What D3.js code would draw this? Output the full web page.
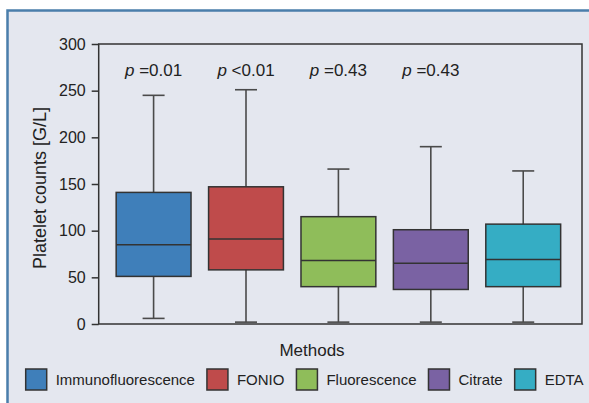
<!DOCTYPE html>
<html>
<head>
<meta charset="utf-8">
<script src="https://cdn.jsdelivr.net/npm/d3@7"></script>
<style>
	html, body { margin: 0; padding: 0; background: #fff; }
	svg { display: block; font-family: 'Liberation Sans', Arial, sans-serif; }
</style>
</head>
<body>
<svg id="chart" width="589" height="403"></svg>
<script>
const METHODS = ['Immunofluorescence', 'FONIO', 'Fluorescence', 'Citrate', 'EDTA'];
const COLORS = ['#3f7fba', '#bf4b4b', '#8fbd5a', '#7a62a3', '#35adc4'];
const WHISKER_LOW = [6, 2, 2, 2, 2];
const Q1 = [51, 58, 40, 37, 40];
const MEDIAN = [85, 91, 68, 65, 69];
const Q3 = [141, 147, 115, 101, 107];
const WHISKER_HIGH = [245, 251, 166, 190, 164];
const P_VALUES = ['=0.01', '<0.01', '=0.43', '=0.43'];
const Y_TICKS = [0, 50, 100, 150, 200, 250, 300];

const W = 589;
const H = 403;
const margin = { top: 44, right: 7, bottom: 79, left: 98.7 };
const INK = '#333';

const $svg = d3.select('#chart');

// panel background with blue frame on top/left
$svg.append('rect')
	.attr('x', 7).attr('y', 10)
	.attr('width', W).attr('height', H)
	.attr('fill', '#e4e7ef');
$svg.append('path')
	.attr('d', `M7.5,${H} V10.5 H${W}`)
	.attr('fill', 'none')
	.attr('stroke', '#4a7eab')
	.attr('stroke-width', 2.5);

const x = d3.scaleBand()
	.domain(METHODS)
	.range([margin.left, W - margin.right])
	.paddingInner(0.19)
	.paddingOuter(0.21)
	.align(0.45);

const y = d3.scaleLinear()
	.domain([0, 300])
	.range([H - margin.bottom, margin.top]);

const cap = 22;

const boxes = METHODS.map((m, i) => ({
	m,
	color: COLORS[i],
	lo: WHISKER_LOW[i],
	q1: Q1[i],
	med: MEDIAN[i],
	q3: Q3[i],
	hi: WHISKER_HIGH[i]
}));

const $g = $svg.selectAll('.box')
	.data(boxes)
	.enter()
	.append('g')
	.attr('class', 'box');

const cx = d => x(d.m) + x.bandwidth() / 2;

// whiskers
$g.append('line')
	.attr('x1', cx).attr('x2', cx)
	.attr('y1', d => y(d.hi)).attr('y2', d => y(d.lo))
	.attr('stroke', '#4a4a4a')
	.attr('stroke-width', 1.6);
$g.append('line')
	.attr('x1', d => cx(d) - cap / 2).attr('x2', d => cx(d) + cap / 2)
	.attr('y1', d => y(d.hi)).attr('y2', d => y(d.hi))
	.attr('stroke', '#4a4a4a')
	.attr('stroke-width', 1.6);
$g.append('line')
	.attr('x1', d => cx(d) - cap / 2).attr('x2', d => cx(d) + cap / 2)
	.attr('y1', d => y(d.lo)).attr('y2', d => y(d.lo))
	.attr('stroke', '#4a4a4a')
	.attr('stroke-width', 1.6);

// box + median
$g.append('rect')
	.attr('x', d => x(d.m))
	.attr('width', x.bandwidth())
	.attr('y', d => y(d.q3))
	.attr('height', d => y(d.q1) - y(d.q3))
	.attr('fill', d => d.color)
	.attr('stroke', INK)
	.attr('stroke-width', 1.5);
$g.append('line')
	.attr('x1', d => x(d.m)).attr('x2', d => x(d.m) + x.bandwidth())
	.attr('y1', d => y(d.med)).attr('y2', d => y(d.med))
	.attr('stroke', INK)
	.attr('stroke-width', 1.5);

// p-values
const $p = $svg.selectAll('.pval')
	.data(P_VALUES)
	.enter()
	.append('text')
	.attr('class', 'pval')
	.attr('x', (d, i) => cx(boxes[i]))
	.attr('y', 76)
	.attr('text-anchor', 'middle')
	.attr('font-size', 17)
	.attr('fill', '#222');
$p.append('tspan').attr('font-style', 'italic').text('p');
$p.append('tspan').text(d => ' ' + d);

// plot frame
$svg.append('rect')
	.attr('x', margin.left)
	.attr('y', margin.top)
	.attr('width', W - margin.right - margin.left)
	.attr('height', y(0) - margin.top)
	.attr('fill', 'none')
	.attr('stroke', INK)
	.attr('stroke-width', 1.5);

// y axis
const $yAxis = $svg.append('g')
	.attr('transform', `translate(${margin.left},0)`)
	.call(d3.axisLeft(y).tickValues(Y_TICKS).tickSize(7).tickPadding(6));
$yAxis.select('.domain').remove();
$yAxis.selectAll('line').attr('stroke', INK).attr('stroke-width', 1.5);
$yAxis.selectAll('text')
	.attr('font-size', 16)
	.attr('font-family', "'Liberation Sans', Arial, sans-serif")
	.attr('fill', '#222');

$svg.append('text')
	.attr('transform', `translate(46,188) rotate(-90)`)
	.attr('text-anchor', 'middle')
	.attr('font-size', 18)
	.attr('fill', '#222')
	.text('Platelet counts [G/L]');

$svg.append('text')
	.attr('x', 312)
	.attr('y', 356)
	.attr('text-anchor', 'middle')
	.attr('font-size', 17)
	.attr('fill', '#222')
	.text('Methods');

// legend, laid out left to right from measured text
const SW = 21;
let lx = 25.7;
METHODS.forEach((m, i) => {
	const $item = $svg.append('g').attr('transform', `translate(${lx},369)`);
	$item.append('rect')
		.attr('width', SW).attr('height', SW)
		.attr('fill', COLORS[i])
		.attr('stroke', INK)
		.attr('stroke-width', 1.5);
	const $t = $item.append('text')
		.attr('x', SW + 9)
		.attr('y', 16)
		.attr('font-size', 15)
		.attr('fill', '#222')
		.text(m);
	lx += SW + 9 + $t.node().getComputedTextLength() + 12;
});
</script>
</body>
</html>
